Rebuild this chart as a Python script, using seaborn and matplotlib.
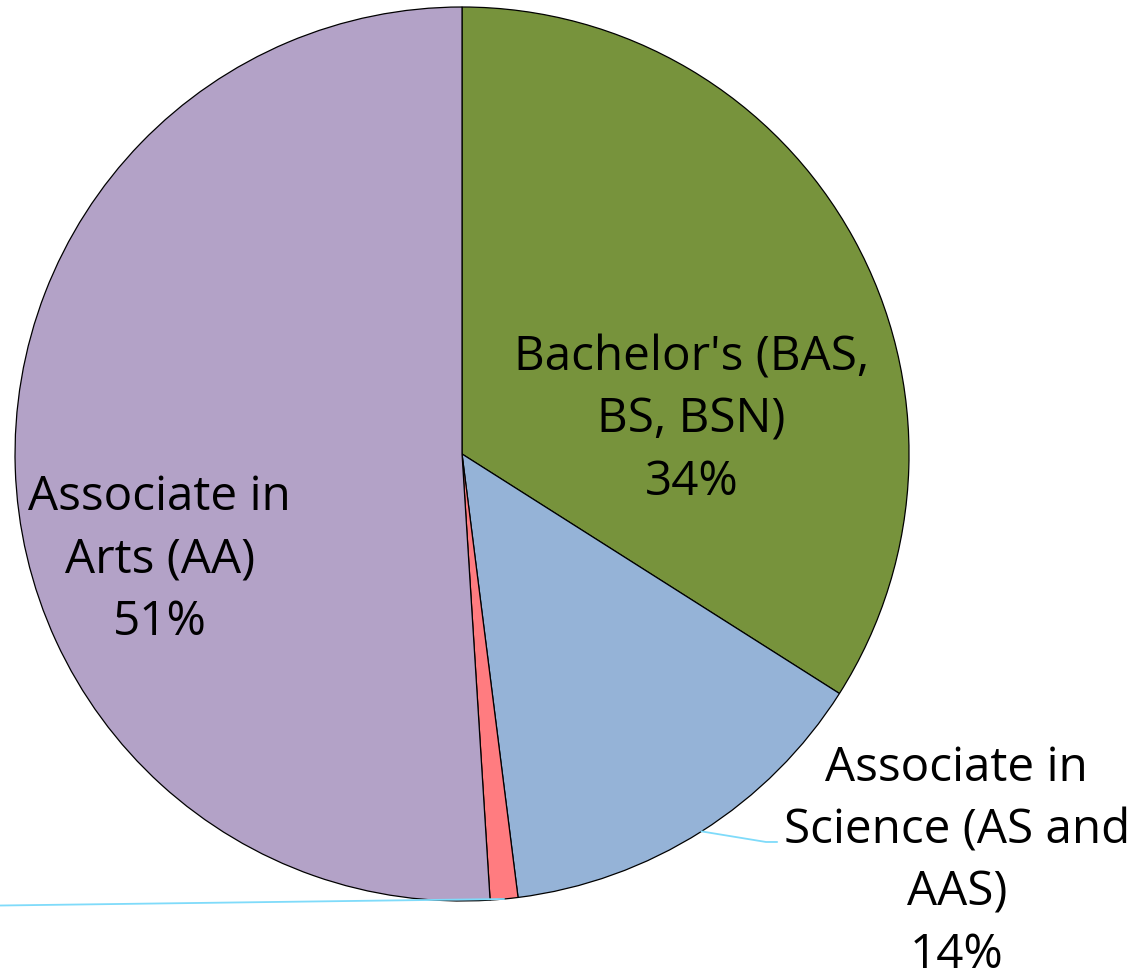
import numpy as np
import seaborn as sns
import matplotlib.pyplot as plt

# datos
categorias = ["Bachelor's (BAS,\nBS, BSN)", "Associate in\nScience (AS and\nAAS)", "Other", "Associate in\nArts (AA)"]
porcentajes = [34, 14, 1, 51]
colores = ["#77933C", "#95B3D7", "#FF7C80", "#B3A2C7"]

sns.set_theme(style="white")
plt.rcParams['font.family'] = ['Open Sans', 'DejaVu Sans']

fig = plt.figure(figsize=(11.39, 9.79), dpi=100)
ax = fig.add_axes([0, 0, 1, 1])

wedges, _ = ax.pie(porcentajes, colors=colores, startangle=90, counterclock=False,
                   radius=1.0, wedgeprops=dict(edgecolor="black", linewidth=0.9))

ax.set_xlim(-1.0336, 1.5145)
ax.set_ylim(-1.1723, 1.0179)
ax.set_aspect("equal")
ax.axis("off")

fs = 34.3
ls = 1.41
linea = "#7FDBFA"

def mid(w):
    ang = np.deg2rad((w.theta1 + w.theta2) / 2)
    return np.cos(ang), np.sin(ang)

# Bachelor's - dentro
ax.text(0.5135, 0.078, f"{categorias[0]}\n{porcentajes[0]}%", ha="center", va="center",
        fontsize=fs, linespacing=ls, color="black")

# Associate in Science - fuera con linea guia
x0, y0 = mid(wedges[1])
ax.plot([x0, 0.68, 0.705], [y0, -0.868, -0.868], color=linea, lw=1.3)
ax.text(1.107, -0.9105, f"{categorias[1]}\n{porcentajes[1]}%", ha="center", va="center",
        fontsize=fs, linespacing=ls, color="black")

# Other - etiqueta fuera del lienzo
x0, y0 = mid(wedges[2])
ax.plot([x0, -1.1], [y0, -1.011], color=linea, lw=1.3, clip_on=False)

# Associate in Arts - dentro
ax.text(-0.676, -0.235, f"{categorias[3]}\n{porcentajes[3]}%", ha="center", va="center",
        fontsize=fs, linespacing=ls, color="black")

plt.savefig("out.png", dpi=100)
